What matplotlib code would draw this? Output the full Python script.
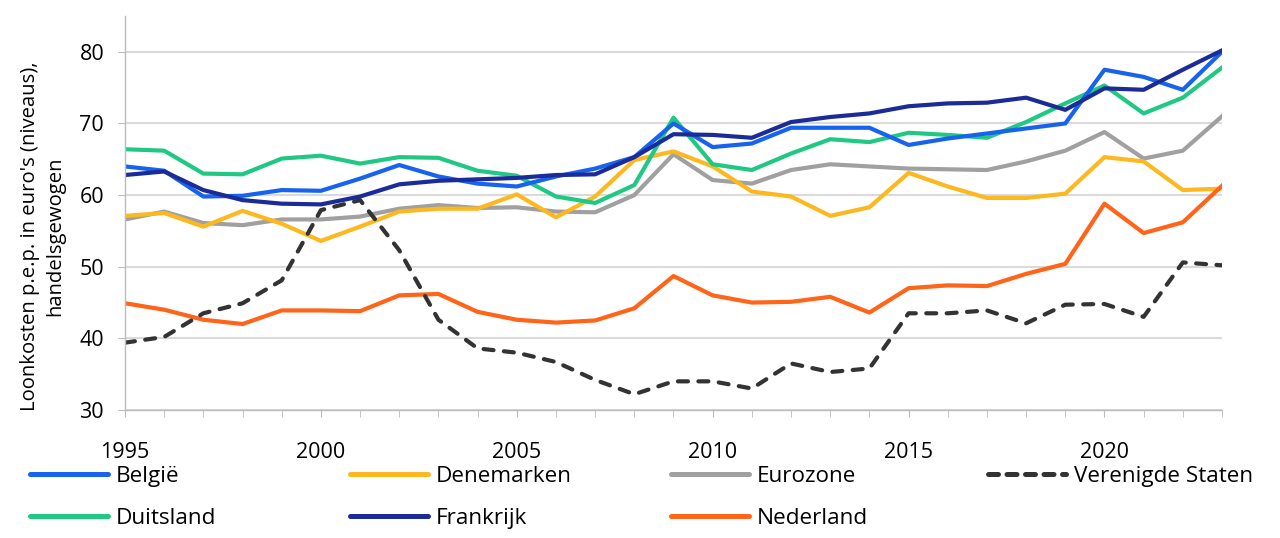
import matplotlib
matplotlib.use("Agg")
import matplotlib.pyplot as plt
from matplotlib.lines import Line2D
import numpy as np

plt.rcParams['font.family'] = ['Open Sans', 'DejaVu Sans']

years = list(range(1995, 2024))

belgie = [64.0, 63.4, 59.8, 59.9, 60.7, 60.6, 62.3, 64.2, 62.6, 61.6, 61.2,
          62.6, 63.7, 65.3, 70.0, 66.7, 67.2, 69.4, 69.4, 69.4,
          67.0, 67.9, 68.6, 69.3, 70.0, 77.5, 76.5, 74.7, 80.0]
duitsland = [66.4, 66.2, 63.0, 62.9, 65.1, 65.5, 64.4, 65.3, 65.2, 63.4, 62.7,
             59.8, 58.9, 61.4, 70.8, 64.3, 63.5, 65.8, 67.8, 67.4,
             68.7, 68.4, 68.0, 70.2, 72.8, 75.3, 71.4, 73.6, 77.8]
denemarken = [57.1, 57.5, 55.6, 57.8, 56.0, 53.6, 55.6, 57.7, 58.1, 58.1, 60.1,
              56.9, 59.8, 64.9, 66.1, 64.0, 60.5, 59.8, 57.1, 58.3,
              63.1, 61.2, 59.6, 59.6, 60.2, 65.3, 64.7, 60.7, 60.9]
frankrijk = [62.8, 63.3, 60.7, 59.3, 58.8, 58.7, 59.8, 61.5, 62.0, 62.2, 62.4,
             62.8, 62.9, 65.3, 68.5, 68.4, 68.0, 70.2, 70.9, 71.4,
             72.4, 72.8, 72.9, 73.6, 71.9, 74.9, 74.7, 77.5, 80.2]
eurozone = [56.6, 57.7, 56.1, 55.8, 56.6, 56.6, 57.0, 58.1, 58.6, 58.2, 58.3,
            57.7, 57.6, 60.0, 65.7, 62.1, 61.6, 63.5, 64.3, 64.0,
            63.7, 63.6, 63.5, 64.7, 66.2, 68.8, 65.1, 66.2, 71.0]
nederland = [44.9, 44.0, 42.6, 42.0, 43.9, 43.9, 43.8, 46.0, 46.2, 43.7, 42.6,
             42.2, 42.5, 44.2, 48.7, 46.0, 45.0, 45.1, 45.8, 43.6,
             47.0, 47.4, 47.3, 49.0, 50.4, 58.8, 54.7, 56.2, 61.3]
vs = [39.4, 40.2, 43.5, 44.9, 48.1, 57.9, 59.3, 52.3, 42.6, 38.6, 38.0,
      36.7, 34.2, 32.2, 34.0, 34.0, 33.0, 36.5, 35.3, 35.8,
      43.5, 43.5, 43.9, 42.1, 44.7, 44.8, 43.0, 50.6, 50.2]

c_be = '#1763EE'
c_de = '#1FC983'
c_dk = '#FDB820'
c_fr = '#1B2B98'
c_ez = '#A0A0A0'
c_nl = '#FF6418'
c_vs = '#333333'

fig = plt.figure(figsize=(12.8, 5.38), dpi=100)
ax = fig.add_axes([125/1280, 1-410/538, (1222-125)/1280, (410-16)/538])

lw = 3.0
series = [
    ('Eurozone', eurozone, c_ez, '-'),
    ('Denemarken', denemarken, c_dk, '-'),
    ('Nederland', nederland, c_nl, '-'),
    ('Verenigde Staten', vs, c_vs, '--'),
    ('Duitsland', duitsland, c_de, '-'),
    ('België', belgie, c_be, '-'),
    ('Frankrijk', frankrijk, c_fr, '-'),
]
for name, vals, col, ls in series:
    if ls == '--':
        ax.plot(years, vals, color=col, lw=lw, linestyle=(0, (2.4, 2.5)),
                dash_capstyle='round', solid_joinstyle='round')
    else:
        ax.plot(years, vals, color=col, lw=lw, solid_joinstyle='round')

ax.set_xlim(1995, 2023)
ax.set_ylim(30, 85)
ax.set_yticks([30, 40, 50, 60, 70, 80])
ax.set_xticks(list(range(1995, 2021, 5)))
ax.set_xticks(years, minor=True)
ax.grid(axis='y', color='#DADADA', lw=1.5)
ax.set_axisbelow(True)
for s in ['top', 'right']:
    ax.spines[s].set_visible(False)
for s in ['left', 'bottom']:
    ax.spines[s].set_color('#BBBBBB')
    ax.spines[s].set_linewidth(1.0)
ax.tick_params(axis='x', which='both', direction='out', length=5, color='#BBBBBB',
               pad=18, labelsize=15.5)
ax.tick_params(axis='y', direction='out', length=5, color='#BBBBBB', pad=10,
               labelsize=15.5)
ax.set_ylabel("Loonkosten p.e.p. in euro's (niveaus),\nhandelsgewogen",
              fontsize=14.6, linespacing=1.35)
ax.yaxis.set_label_coords(-60/1097, (410-236)/394)

def h(col, ls='-'):
    if ls == '--':
        return Line2D([], [], color=col, lw=3.6, linestyle=(0, (2.0, 1.7)),
                      dash_capstyle='round')
    return Line2D([], [], color=col, lw=3.6, solid_capstyle='round')

cols = [
    [(h(c_be), 'België'), (h(c_de), 'Duitsland')],
    [(h(c_dk), 'Denemarken'), (h(c_fr), 'Frankrijk')],
    [(h(c_ez), 'Eurozone'), (h(c_nl), 'Nederland')],
    [(h(c_vs, '--'), 'Verenigde Staten')],
]
xs = [30, 350, 671, 988]
for x0, items in zip(xs, cols):
    fig.legend([i[0] for i in items], [i[1] for i in items],
               loc='upper left', bbox_to_anchor=(x0/1280, 1-466/538),
               frameon=False, fontsize=16.2, handlelength=3.45,
               handletextpad=0.38, borderpad=0, borderaxespad=0,
               labelspacing=0.92)

fig.savefig('out.png', dpi=100)
